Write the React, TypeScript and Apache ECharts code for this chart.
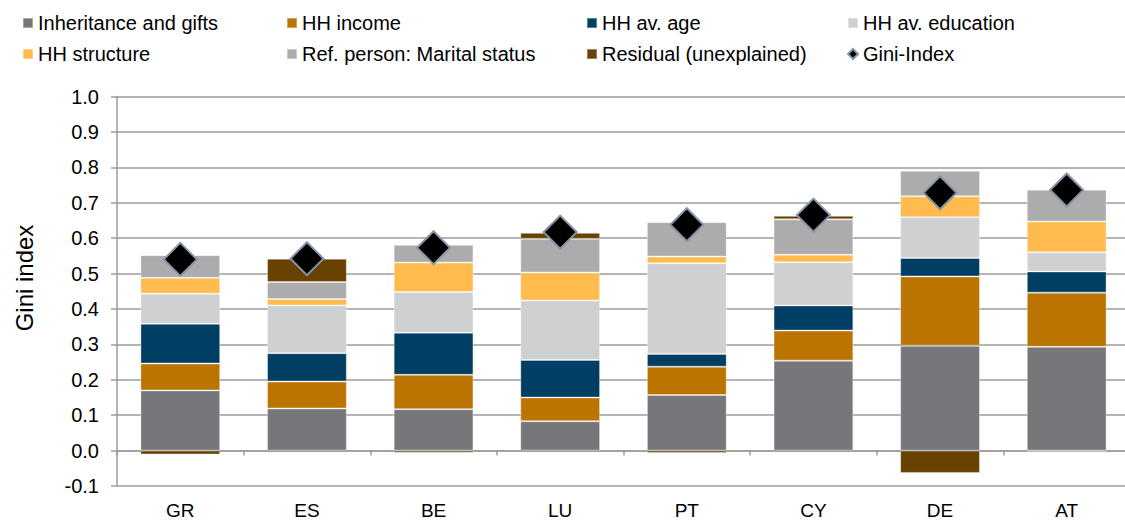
import React, { useEffect, useRef } from "react";
import * as echarts from "echarts";

const categories = ["GR", "ES", "BE", "LU", "PT", "CY", "DE", "AT"];
const inheritance = [0.170, 0.119, 0.117, 0.083, 0.157, 0.254, 0.296, 0.293];
const hhIncome = [0.076, 0.076, 0.097, 0.067, 0.080, 0.085, 0.196, 0.153];
const hhAge = [0.112, 0.080, 0.119, 0.106, 0.036, 0.071, 0.052, 0.060];
const hhEducation = [0.085, 0.135, 0.115, 0.168, 0.256, 0.122, 0.115, 0.054];
const hhStructure = [0.045, 0.018, 0.083, 0.079, 0.019, 0.021, 0.059, 0.087];
const marital = [0.064, 0.048, 0.050, 0.095, 0.097, 0.100, 0.072, 0.090];
const residual = [-0.011, 0.066, -0.006, 0.017, -0.007, 0.010, -0.063, -0.002];
const gini = [0.540, 0.542, 0.573, 0.617, 0.638, 0.665, 0.728, 0.736];
const yTicks = [-0.1, 0.0, 0.1, 0.2, 0.3, 0.4, 0.5, 0.6, 0.7, 0.8, 0.9, 1.0];
const yAxisTitle = "Gini index";

const FONT = "'Liberation Sans', Arial, sans-serif";
const GRID_COLOR = "#9c9c9c";

const barSeries = [
  { name: "Inheritance and gifts", data: inheritance, color: "#77767b" },
  { name: "HH income", data: hhIncome, color: "#bc7400" },
  { name: "HH av. age", data: hhAge, color: "#003f63" },
  { name: "HH av. education", data: hhEducation, color: "#cfd0d2" },
  { name: "HH structure", data: hhStructure, color: "#ffbb4d" },
  { name: "Ref. person: Marital status", data: marital, color: "#acacac" },
  { name: "Residual (unexplained)", data: residual, color: "#674200" },
];

const legendLayout = [
  { name: "Inheritance and gifts", left: 22, top: 13 },
  { name: "HH income", left: 286, top: 13 },
  { name: "HH av. age", left: 586, top: 13 },
  { name: "HH av. education", left: 847, top: 13 },
  { name: "HH structure", left: 22, top: 44 },
  { name: "Ref. person: Marital status", left: 286, top: 44 },
  { name: "Residual (unexplained)", left: 586, top: 44 },
  { name: "Gini-Index", left: 847, top: 44 },
];

export default function App() {
  const ref = useRef<HTMLDivElement>(null);

  useEffect(() => {
    document.body.style.margin = "0";
    if (!ref.current) return;
    const chart = echarts.init(ref.current, undefined, { renderer: "svg" });

    const option: any = {
      animation: false,
      backgroundColor: "#ffffff",
      textStyle: { fontFamily: FONT },
      legend: legendLayout.map((l) => ({
        left: l.left,
        top: l.top,
        padding: 0,
        itemWidth: 10,
        itemHeight: 10,
        selectedMode: false,
        textStyle: { fontFamily: FONT, fontSize: 20, color: "#000" },
        data: [
          l.name === "Gini-Index"
            ? { name: l.name, icon: "diamond" }
            : { name: l.name, icon: "rect" },
        ],
      })),
      graphic: [
        {
          type: "text",
          x: 24,
          y: 278,
          rotation: Math.PI / 2,
          style: {
            text: yAxisTitle,
            fontFamily: FONT,
            fontSize: 24,
            fill: "#000",
            align: "center",
            verticalAlign: "middle",
          },
        },
      ],
      grid: {
        left: 117,
        right: -5,
        top: 96.5,
        bottom: 35,
        containLabel: false,
        outerBoundsMode: "none",
      },
      xAxis: {
        type: "category",
        data: categories,
        axisLine: { show: true, onZero: true, lineStyle: { color: GRID_COLOR, width: 1.5 } },
        axisTick: { show: true, alignWithLabel: false, length: 5, lineStyle: { color: GRID_COLOR, width: 1.5 } },
        axisLabel: { margin: 15, fontSize: 19, lineHeight: 18, color: "#000", fontFamily: FONT },
        splitLine: { show: false },
      },
      yAxis: {
        type: "value",
        min: yTicks[0],
        max: yTicks[yTicks.length - 1],
        interval: 0.1,
        axisLine: { show: true, lineStyle: { color: GRID_COLOR, width: 1.5 } },
        axisTick: { show: true, length: 6, lineStyle: { color: GRID_COLOR, width: 1.5 } },
        axisLabel: {
          margin: 18,
          fontSize: 20,
          color: "#000",
          fontFamily: FONT,
          formatter: (v: number) => (Math.round(v * 10) / 10).toFixed(1),
        },
        splitLine: { show: true, lineStyle: { color: GRID_COLOR, width: 1.5 } },
      },
      series: [
        ...barSeries.map((s) => ({
          name: s.name,
          type: "bar",
          stack: "total",
          data: s.data,
          barWidth: "63%",
          itemStyle: {
            color: s.color,
            borderColor: "rgba(255,255,255,0.35)",
            borderWidth: 1,
          },
        })),
        {
          name: "Gini-Index",
          type: "scatter",
          data: gini,
          symbol: "diamond",
          symbolSize: 33,
          z: 5,
          itemStyle: { color: "#000000", opacity: 1, borderColor: "#8594a6", borderWidth: 2 },
        },
      ],
    };

    chart.setOption(option);
    return () => chart.dispose();
  }, []);

  return <div ref={ref} style={{ width: 1125, height: 521 }} />;
}
